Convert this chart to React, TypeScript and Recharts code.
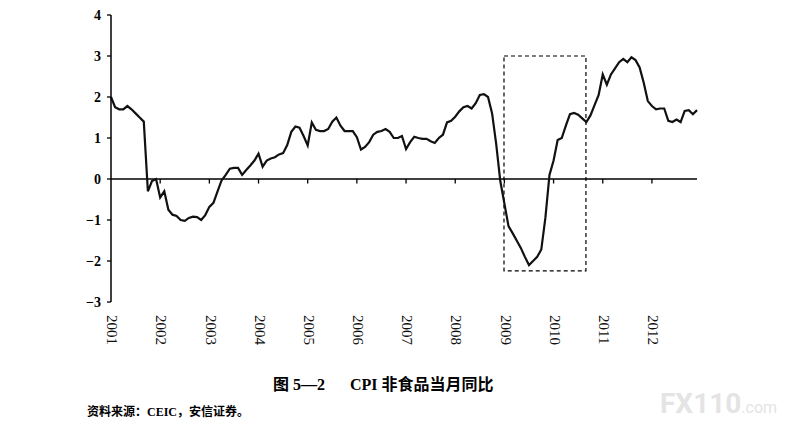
import React from "react";
import { LineChart, Line, XAxis, YAxis, ReferenceLine, ReferenceArea } from "recharts";

// Monthly CPI non-food YoY (%), Jan 2001 – Dec 2012
const yearLabels = ["2001", "2002", "2003", "2004", "2005", "2006", "2007", "2008", "2009", "2010", "2011", "2012"];
const yTicks = [-3, -2, -1, 0, 1, 2, 3, 4];

const values2001 = [2.0, 1.75, 1.7, 1.7, 1.78, 1.7, 1.6, 1.5, 1.4, -0.3, -0.05, 0.0];
const values2002 = [-0.45, -0.3, -0.75, -0.87, -0.9, -1.0, -1.02, -0.95, -0.92, -0.93, -1.0, -0.88];
const values2003 = [-0.68, -0.58, -0.3, -0.03, 0.1, 0.25, 0.27, 0.27, 0.1, 0.22, 0.33, 0.45];
const values2004 = [0.62, 0.3, 0.45, 0.5, 0.53, 0.6, 0.63, 0.83, 1.15, 1.28, 1.25, 1.05];
const values2005 = [0.82, 1.38, 1.2, 1.17, 1.17, 1.22, 1.4, 1.5, 1.3, 1.17, 1.17, 1.17];
const values2006 = [1.02, 0.72, 0.78, 0.9, 1.08, 1.15, 1.17, 1.22, 1.15, 1.0, 1.0, 1.05];
const values2007 = [0.73, 0.9, 1.03, 1.0, 0.98, 0.98, 0.92, 0.88, 1.0, 1.08, 1.38, 1.42];
const values2008 = [1.52, 1.65, 1.75, 1.78, 1.72, 1.85, 2.05, 2.07, 2.0, 1.6, 0.85, -0.05];
const values2009 = [-0.6, -1.15, -1.32, -1.5, -1.68, -1.9, -2.1, -2.0, -1.9, -1.72, -0.95, 0.1];
const values2010 = [0.45, 0.95, 1.0, 1.3, 1.58, 1.61, 1.57, 1.48, 1.39, 1.55, 1.8, 2.05];
const values2011 = [2.55, 2.3, 2.55, 2.7, 2.85, 2.93, 2.85, 2.97, 2.9, 2.72, 2.35, 1.9];
const values2012 = [1.78, 1.7, 1.72, 1.72, 1.42, 1.39, 1.45, 1.39, 1.66, 1.68, 1.58, 1.68];

const nonFoodCpi = [
  ...values2001, ...values2002, ...values2003, ...values2004, ...values2005, ...values2006,
  ...values2007, ...values2008, ...values2009, ...values2010, ...values2011, ...values2012,
];

// highlighted period (month index / value)
const boxStart = 95.9;
const boxEnd = 115.9;
const boxTop = 3.0;
const boxBottom = -2.24;

const data = nonFoodCpi.map((v, i) => ({ i, v }));
const xTicks = yearLabels.map((_, k) => k * 12);
const innerTicks = xTicks.slice(1);

const serif = "'Liberation Serif', 'Times New Roman', serif";
const cjk = "'Liberation Serif', 'Noto Sans CJK SC', serif";

const XTick = (props: any) => {
  const { x, y, payload } = props;
  const label = yearLabels[Math.round(payload.value / 12)];
  return (
    <g transform={`translate(${x + 1.5},${y})`}>
      <text transform="rotate(90)" x={0} y={0} dy="0.35em" textAnchor="start" fontSize={15} fontFamily={serif} fill="#111">
        {label}
      </text>
    </g>
  );
};

const fmtY = (v: number) => (v < 0 ? `\u2212${-v}` : `${v}`);

export default function App() {
  return (
    <div style={{ position: "relative", width: 786, height: 411 }}>
      <LineChart width={700} height={339} data={data} margin={{ top: 7, right: 11, left: 63, bottom: 0 }}>
        <XAxis
          dataKey="i"
          type="number"
          domain={[0, 143]}
          ticks={xTicks}
          interval={0}
          axisLine={false}
          tickLine={false}
          tickSize={0}
          tickMargin={13}
          height={45}
          tick={<XTick />}
        />
        <YAxis
          type="number"
          domain={[-3, 4]}
          ticks={yTicks}
          interval={0}
          width={40}
          tickSize={4}
          tickMargin={6}
          tickFormatter={fmtY}
          axisLine={{ stroke: "#000", strokeWidth: 1.5 }}
          tickLine={{ stroke: "#000", strokeWidth: 1.3 }}
          tick={{ fontSize: 14, fontWeight: "bold", fontFamily: serif, fill: "#000" }}
        />
        <ReferenceLine y={0} stroke="#000" strokeWidth={1.5} />
        {innerTicks.map((t) => (
          <ReferenceLine
            key={t}
            segment={[{ x: t, y: 0 }, { x: t, y: -0.11 }]}
            stroke="#000"
            strokeWidth={1.3}
          />
        ))}
        <ReferenceArea
          x1={boxStart}
          x2={boxEnd}
          y1={boxBottom}
          y2={boxTop}
          fill="none"
          fillOpacity={0}
          stroke="#000"
          strokeWidth={1.2}
          strokeDasharray="4 3"
        />
        <Line
          type="linear"
          dataKey="v"
          stroke="#111"
          strokeWidth={2.2}
          dot={false}
          activeDot={false}
          isAnimationActive={false}
        />
      </LineChart>
      <svg width={786} height={411} style={{ position: "absolute", left: 0, top: 0, pointerEvents: "none" }}>
        <text x={265} y={382} fontSize={16} fontWeight="bold" fontFamily={cjk} fill="#000">
          图 5—2
        </text>
        <text x={342} y={382} fontSize={16} fontWeight="bold" fontFamily={cjk} fill="#000">
          CPI 非食品当月同比
        </text>
        <text x={79} y={408} fontSize={12} fontWeight="bold" fontFamily={cjk} fill="#000">
          资料来源：CEIC，安信证券。
        </text>
        <text x={652} y={405} fontSize={28} fontWeight="bold" fontFamily="Roboto, sans-serif" fill="#e4e4e4">
          FX110
          <tspan fontSize={16} fontWeight="normal">.com</tspan>
        </text>
      </svg>
    </div>
  );
}
